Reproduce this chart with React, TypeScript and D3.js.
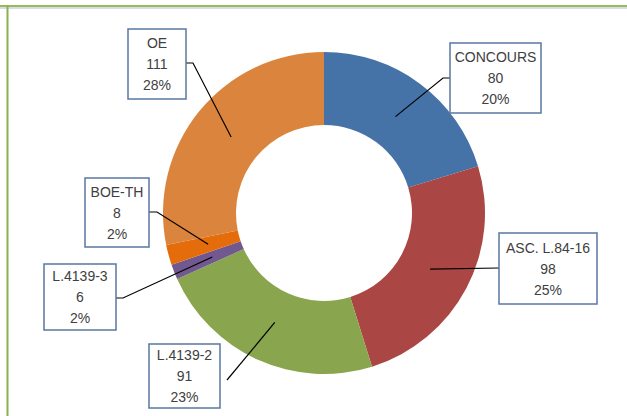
import React from 'react'
import * as d3 from 'd3'

// slice data, clockwise from 12 o'clock
const categories = ['CONCOURS', 'ASC. L.84-16', 'L.4139-2', 'L.4139-3', 'BOE-TH', 'OE']
const values = [80, 98, 91, 6, 8, 111]
const colors = ['#4572A7', '#AA4643', '#89A54E', '#71588F', '#E46C0A', '#DB843D']

// label box layout: [x, y, w, h]
const boxes = [
  [450, 43, 91, 70],
  [499, 233, 98, 71],
  [149, 344, 71, 64],
  [44, 264, 72, 66],
  [85, 178, 64, 69],
  [128, 29, 58, 70]
]
// leader line points after the slice anchor
const leaders = [
  [[443, 78], [450, 78]],
  [[499, 268]],
  [[227, 380]],
  [[123, 298], [116, 298]],
  [[157, 212], [149, 212]],
  [[193, 63], [186, 63]]
]

const W = 627
const H = 416
const cx = 324
const cy = 213
const outerR = 161
const innerR = 88
const anchorR = 120

export default function App () {
  const total = d3.sum(values)
  const pie = d3.pie<number>().sort(null).value(d => d)
  const arcs = pie(values)
  const arc = d3.arc<d3.PieArcDatum<number>>().innerRadius(innerR).outerRadius(outerR)
  const anchor = d3.arc<d3.PieArcDatum<number>>().innerRadius(anchorR).outerRadius(anchorR)

  return (
    <svg width={W} height={H} style={{ position: 'absolute', left: 0, top: 0, background: '#fff' }}
      fontFamily='"Liberation Sans", Arial, sans-serif'>
      {/* frame */}
      <line x1={0} x2={W} y1={6} y2={6} stroke='#9BBB59' strokeWidth={2} />
      <line x1={0} x2={W} y1={8} y2={8} stroke='#A9BBD6' strokeWidth={1} />
      <line x1={7.5} x2={7.5} y1={5} y2={H} stroke='#8DB050' strokeWidth={2} />

      <g transform={`translate(${cx},${cy})`}>
        {arcs.map((a, i) => (
          <path key={categories[i]} d={arc(a) || ''} fill={colors[i]} />
        ))}
      </g>

      {arcs.map((a, i) => {
        const [ax, ay] = anchor.centroid(a)
        const pts = [[cx + ax, cy + ay], ...leaders[i]]
        return (
          <polyline key={'l' + i} points={pts.map(p => p.join(',')).join(' ')}
            fill='none' stroke='#000' strokeWidth={1.2} />
        )
      })}

      {categories.map((c, i) => {
        const [x, y, w, h] = boxes[i]
        const mx = x + w / 2
        const my = y + h / 2
        const lines = [c, String(values[i]), Math.round(values[i] / total * 100) + '%']
        return (
          <g key={'b' + i}>
            <rect x={x} y={y} width={w} height={h} fill='#fff' stroke='#5A77A3' strokeWidth={1.5} />
            {lines.map((t, j) => (
              <text key={j} x={mx} y={my + (j - 1) * 21 + 5} textAnchor='middle'
                fontSize={14} fill='#404040'>{t}</text>
            ))}
          </g>
        )
      })}
    </svg>
  )
}
